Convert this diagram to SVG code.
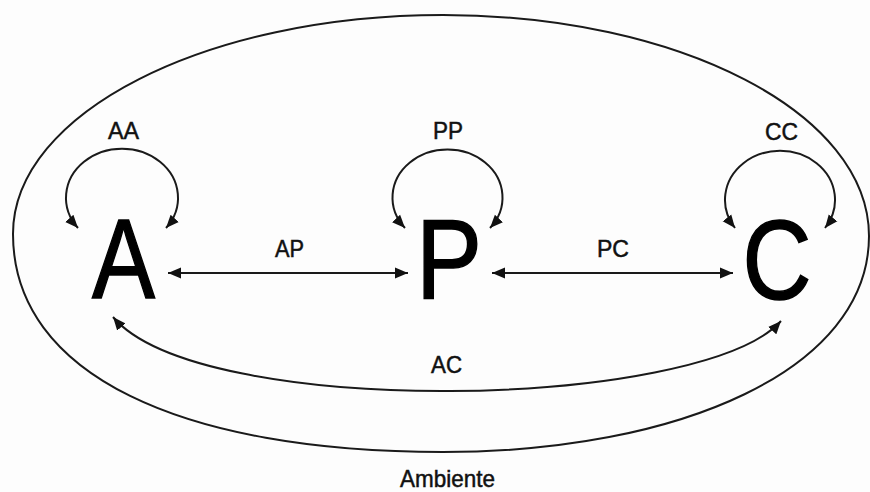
<svg xmlns="http://www.w3.org/2000/svg" width="870" height="492" viewBox="0 0 870 492">
  <defs>
    <marker id="arr" markerUnits="userSpaceOnUse" markerWidth="15" markerHeight="13" refX="13" refY="5.5" orient="auto-start-reverse" viewBox="0 0 15 11">
      <path d="M0,0 L13,5.5 L0,11 z" fill="#111"/>
    </marker>
    <style>
      .line{fill:none;stroke:#1a1a1a;stroke-width:2;}
      .conn{fill:none;stroke:#1a1a1a;stroke-width:2;marker-start:url(#arr);marker-end:url(#arr);}
      .big{font-family:"Liberation Sans",Arial,sans-serif;font-size:113px;fill:#000;stroke:#000;stroke-width:1.5;text-anchor:middle;}
      .lbl{font-family:"Liberation Sans",Arial,sans-serif;font-size:24px;fill:#111;stroke:#111;stroke-width:0.5;text-anchor:middle;}
    </style>
  </defs>
  <rect width="870" height="492" fill="#fdfdfd"/>
  <g id="ambiente">
    <path class="line" d="M443 15 C679 15 869 113 869 236 C869 370 679 452 443 452 C182 452 13 375 13 234 C13 113 206 15 443 15 Z"/>
    <text class="lbl" x="447.5" y="487" textLength="95" lengthAdjust="spacingAndGlyphs">Ambiente</text>
  </g>
  <g id="nodeA">
    <text class="big" x="123.5" y="298" textLength="63" lengthAdjust="spacingAndGlyphs">A</text>
  </g>
  <g id="nodeP">
    <text class="big" x="449" y="298" textLength="66" lengthAdjust="spacingAndGlyphs">P</text>
  </g>
  <g id="nodeC">
    <text class="big" x="777" y="299" textLength="69" lengthAdjust="spacingAndGlyphs">C</text>
  </g>
  <g id="connectors">
    <path id="AA" class="conn" d="M78 228 A56 49 0 1 1 166 228"/>
    <path id="PP" class="conn" d="M405 228 A55 48 0 1 1 490 228"/>
    <path id="CC" class="conn" d="M735 228 A55 49 0 1 1 825 228"/>
    <path id="AP" class="conn" d="M168 273 H408"/>
    <path id="PC" class="conn" d="M492 273 H733"/>
    <path id="AC" class="conn" d="M113 317 C200 420 700 410 781 321"/>
    <text class="lbl" x="123.5" y="139" textLength="31" lengthAdjust="spacingAndGlyphs">AA</text>
    <text class="lbl" x="448" y="139" textLength="30" lengthAdjust="spacingAndGlyphs">PP</text>
    <text class="lbl" x="781.5" y="140" textLength="33" lengthAdjust="spacingAndGlyphs">CC</text>
    <text class="lbl" x="289.5" y="257" textLength="29" lengthAdjust="spacingAndGlyphs">AP</text>
    <text class="lbl" x="613" y="257" textLength="32" lengthAdjust="spacingAndGlyphs">PC</text>
    <text class="lbl" x="446.5" y="373" textLength="31" lengthAdjust="spacingAndGlyphs">AC</text>
  </g>
</svg>
